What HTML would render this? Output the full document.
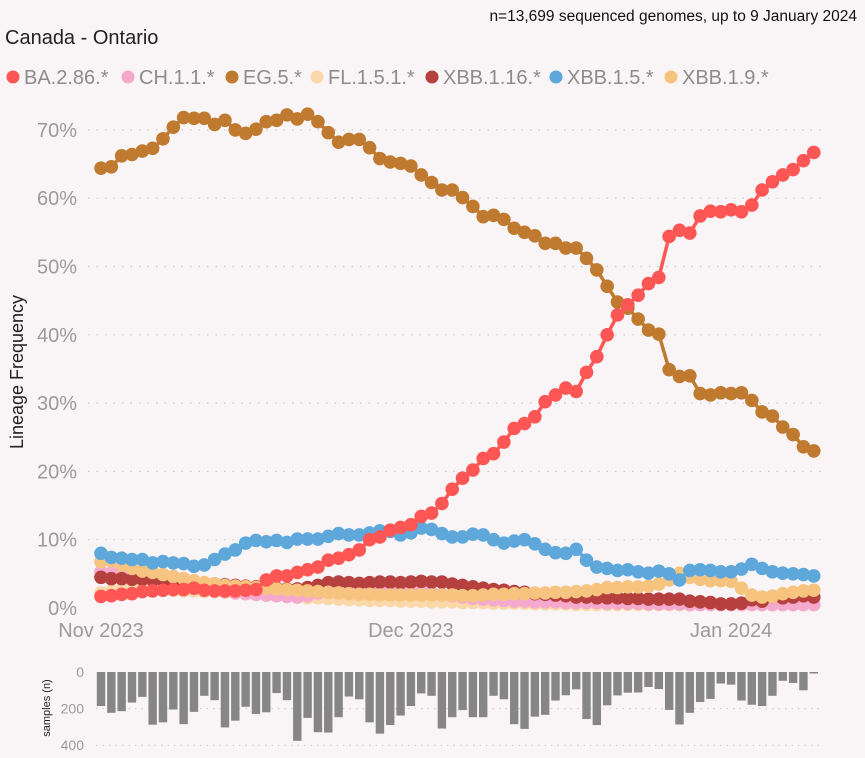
<!DOCTYPE html>
<html><head><meta charset="utf-8">
<style>
html,body{margin:0;padding:0;background:#f9f5f7;}
svg{display:block;font-family:"Liberation Sans","DejaVu Sans",sans-serif;}
</style></head>
<body>
<svg id="chart" width="865" height="758" viewBox="0 0 865 758">
<rect width="865" height="758" fill="#f9f5f7"/>
<text x="857" y="21" text-anchor="end" font-size="15.5" fill="#111">n=13,699 sequenced genomes, up to 9 January 2024</text>
<text x="5" y="44" font-size="20" fill="#222">Canada - Ontario</text>
<g id="legend"></g>
<g id="grid"></g>
<g id="yticks"></g>
<text transform="translate(23,372) rotate(-90)" text-anchor="middle" font-size="18" fill="#222">Lineage Frequency</text>
<g id="xticks"></g>
<g id="series"></g>
<g id="bars"></g>
<text transform="translate(50,708) rotate(-90)" text-anchor="middle" font-size="11" fill="#222">samples (n)</text>
</svg>
<script>
const seriesNames=["BA.2.86.*","CH.1.1.*","EG.5.*","FL.1.5.1.*","XBB.1.16.*","XBB.1.5.*","XBB.1.9.*"];
const seriesColors=["#fd5655","#f5a9cd","#bf7a2f","#fad8aa","#b5403e","#5ea7da","#f7c480"];
const ba286=[1.7,1.8,2.0,2.1,2.4,2.5,2.6,2.7,2.7,2.9,2.6,2.5,2.5,2.5,2.6,2.7,4.1,4.7,4.7,5.2,5.6,6.0,7.0,7.3,7.8,8.5,10.0,10.4,11.4,11.8,12.2,13.4,13.9,15.3,17.4,19.0,20.2,21.9,22.6,24.3,26.3,27.0,28.0,30.2,31.2,32.2,31.7,34.5,36.8,40.0,42.9,44.4,45.8,47.5,48.4,54.4,55.3,54.9,57.4,58.1,58.0,58.3,58.0,59.0,61.2,62.4,63.4,64.2,65.5,66.7];
const ch11=[5.3,5.1,4.9,4.6,4.3,4.0,3.8,3.5,3.3,3.0,2.8,2.6,2.4,2.2,2.1,2.0,1.9,1.8,1.7,1.6,1.8,2.2,2.8,3.2,3.4,3.5,3.4,3.2,3.0,2.8,2.6,2.4,2.2,2.0,1.8,1.6,1.4,1.3,1.2,1.1,1.0,1.0,0.9,0.9,0.9,0.8,0.8,0.8,0.8,0.7,0.7,0.7,0.7,0.6,0.6,0.6,0.6,0.5,0.5,0.5,0.5,0.5,0.5,0.5,0.5,0.5,0.5,0.5,0.5,0.5];
const eg5=[64.4,64.6,66.2,66.4,66.9,67.3,68.7,70.4,71.8,71.7,71.7,70.8,71.4,70.0,69.5,70.1,71.2,71.4,72.2,71.6,72.3,71.2,69.6,68.2,68.6,68.6,67.4,65.8,65.3,65.1,64.7,63.4,62.3,61.2,61.2,60.1,58.8,57.3,57.5,56.9,55.6,55.0,54.5,53.4,53.4,52.7,52.7,51.2,49.5,47.1,44.8,43.9,42.3,40.7,40.1,34.9,33.9,34.0,31.4,31.2,31.5,31.4,31.5,30.4,28.7,28.1,26.5,25.4,23.6,23.0];
const fl151=[2.2,2.5,2.7,2.8,2.8,2.7,2.6,2.6,2.5,2.5,2.4,2.4,2.3,2.2,2.1,2.0,1.9,1.8,1.7,1.6,1.5,1.5,1.4,1.3,1.2,1.2,1.1,1.1,1.1,1.0,1.0,1.0,0.9,0.9,0.9,0.8,0.8,0.8,0.7,0.7,0.7,0.7,0.6,0.6,0.6,0.6,0.5,0.5,0.5,0.5,0.5,0.5,0.5,0.5,0.5,0.5,0.5,0.5,0.5,0.5,0.5,0.5,0.5,0.5,0.5,0.5,0.5,0.5,0.5,0.5];
const xbb116=[4.5,4.3,4.3,4.2,4.2,4.1,4.0,4.0,3.9,3.8,3.6,3.5,3.4,3.3,3.2,3.1,3.0,2.9,2.8,2.8,3.0,3.3,3.7,3.8,3.7,3.6,3.7,3.8,3.8,3.7,3.8,3.9,3.8,3.8,3.5,3.3,3.1,2.9,2.7,2.6,2.4,2.3,2.1,2.0,1.9,1.8,1.6,1.6,1.5,1.5,1.5,1.4,1.4,1.3,1.3,1.3,1.3,1.0,0.9,0.8,0.6,0.6,0.7,1.2,1.0,1.7,1.5,1.6,1.8,1.6];
const xbb15=[8.0,7.4,7.3,7.1,7.1,6.6,6.8,6.6,6.5,6.1,6.3,7.1,7.9,8.5,9.5,9.9,9.7,9.9,9.6,10.1,10.1,10.1,10.5,10.9,10.7,10.7,11.0,11.3,11.2,10.7,11.0,11.7,11.5,10.9,10.4,10.4,10.8,10.7,10.0,9.5,9.8,10.0,9.4,8.6,8.1,8.0,8.6,7.0,6.0,5.8,5.5,5.6,5.3,5.1,5.4,5.0,4.1,5.5,5.6,5.5,5.3,5.3,5.7,6.4,5.8,5.3,5.1,5.0,4.9,4.7];
const xbb19=[6.8,6.9,6.3,5.8,5.4,5.2,4.9,4.6,4.3,4.0,3.7,3.5,3.3,3.2,3.1,3.0,2.9,2.8,2.7,2.6,2.5,2.4,2.3,2.2,2.1,2.0,2.0,1.9,1.9,1.9,1.9,1.9,1.9,1.9,1.9,1.8,1.8,1.9,2.0,2.0,2.1,2.1,2.2,2.2,2.3,2.3,2.4,2.5,2.7,3.0,3.0,3.1,3.1,3.2,3.5,4.1,5.1,4.5,4.2,4.0,4.0,3.9,2.9,1.9,1.6,1.7,2.1,2.3,2.5,2.6];
const samples=[186,223,214,167,136,288,275,205,285,218,130,154,303,266,190,229,220,115,154,376,251,329,331,247,134,149,275,337,290,238,186,117,130,309,247,208,247,247,130,149,285,311,244,234,156,127,95,257,290,182,128,113,112,82,93,207,287,223,164,147,63,69,156,179,186,130,48,60,100,4];
const yTicks=[0,10,20,30,40,50,60,70];
const xTickLabels=["Nov 2023","Dec 2023","Jan 2024"];
const xTickDays=[0,30,61];
const sampleTicks=[0,200,400];

const NS="http://www.w3.org/2000/svg";
function mk(tag,attrs,parent){const e=document.createElementNS(NS,tag);for(const k in attrs)e.setAttribute(k,attrs[k]);parent.appendChild(e);return e;}
const xDay=i=>101+i*10.33;
const yPct=v=>608-v*6.83;
const ySamp=v=>672+v*0.183;

const grid=document.getElementById('grid');
const yt=document.getElementById('yticks');
yTicks.forEach(t=>{
  if(t>0){const l=mk('line',{x1:88,x2:822,y1:yPct(t),y2:yPct(t),stroke:'#c9c9c9','stroke-width':1.2,'stroke-dasharray':'1.5 7'},grid);
  
  }
  const tx=mk('text',{x:77,y:yPct(t)+7,'text-anchor':'end','font-size':20,fill:'#9a9a9a'},yt);
  tx.textContent=t+'%';
  
  
});
const xt=document.getElementById('xticks');
xTickLabels.forEach((s,k)=>{
  const tx=mk('text',{x:xDay(xTickDays[k]),y:637,'text-anchor':'middle','font-size':20,fill:'#9a9a9a'},xt);
  tx.textContent=s;
  
  
});
const lg=document.getElementById('legend');
const legX=[13,128,232,317,432,556,671];
seriesNames.forEach((n,k)=>{
  const g=mk('g',{},lg);
  
  
  mk('circle',{cx:legX[k],cy:77,r:6.5,fill:seriesColors[k]},g);
  const tx=mk('text',{x:legX[k]+11,y:84,'font-size':20,fill:'#8c8c8c'},g);
  tx.textContent=n;
});
const allData=[ba286,ch11,eg5,fl151,xbb116,xbb15,xbb19];
const order=[3,1,4,6,5,2,0];
const sl=document.getElementById('series');
order.forEach(k=>{
  const d=allData[k];
  const g=mk('g',{},sl);
  
  
  const pts=d.map((v,i)=>xDay(i)+','+yPct(v)).join(' ');
  mk('polyline',{points:pts,fill:'none',stroke:seriesColors[k],'stroke-width':3.5,'stroke-linejoin':'round'},g);
  d.forEach((v,i)=>{
    const c=mk('circle',{cx:xDay(i),cy:yPct(v),r:6.8,fill:seriesColors[k]},g);
    
    
  });
});
const bg=document.getElementById('bars');
sampleTicks.forEach(t=>{
  if(t>0){const l=mk('line',{x1:96,x2:822,y1:ySamp(t),y2:ySamp(t),stroke:'#c9c9c9','stroke-width':1,'stroke-dasharray':'1.5 5'},bg);
  
  }
  const tx=mk('text',{x:84,y:ySamp(t)+5,'text-anchor':'end','font-size':14,fill:'#9a9a9a'},bg);
  tx.textContent=t;
  
  
});
samples.forEach((v,i)=>{
  const r=mk('rect',{x:xDay(i)-4.2,y:672,width:8.4,height:Math.max(1.5,v*0.183),fill:'#868686'},bg);
  
  
});
</script>
</body></html>
